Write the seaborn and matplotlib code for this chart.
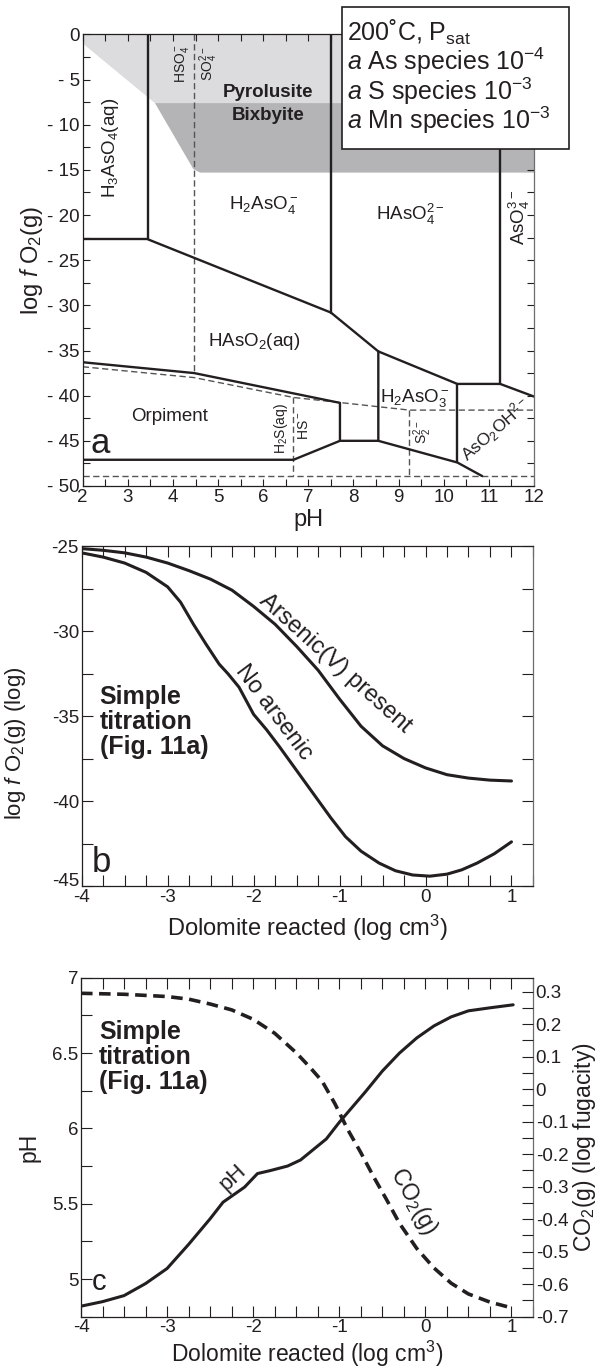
import numpy as np
import pandas as pd
import matplotlib
matplotlib.use("Agg")
import matplotlib.pyplot as plt
import matplotlib.transforms as mtransforms
from matplotlib.patches import Rectangle
from matplotlib.ticker import MultipleLocator, FuncFormatter
import seaborn as sns

# ---------------- data ----------------
# (a) pH - log fO2 stability diagram, 200 C
pyrolusite_x = [2, 2, 3.6, 12, 12]
pyrolusite_y = [0, -1, -7.6, -7.6, 0]
bixbyite_x = [3.6, 12, 12, 4.6, 4.45]
bixbyite_y = [-7.6, -7.6, -15.3, -15.3, -14.9]

h3aso4_bnd_x = [2, 3.45, 3.45]
h3aso4_bnd_y = [-22.7, -22.7, 0]
arsenate_bnd_x = [3.45, 7.5, 8.55, 10.3, 11.25, 12]
arsenate_bnd_y = [-22.7, -30.8, -35.1, -38.7, -38.7, -40.1]
h2aso4_bnd_x = [7.5, 7.5]
h2aso4_bnd_y = [-30.8, 0]
hasO4_bnd_x = [11.25, 11.25]
hasO4_bnd_y = [-38.7, 0]
orpiment_top_x = [2, 4.47, 7.7, 7.7, 8.55, 8.55]
orpiment_top_y = [-36.3, -37.5, -40.8, -45, -45, -35.1]
orpiment_bot_x = [2, 6.67, 7.7]
orpiment_bot_y = [-47.1, -47.1, -45]
arsenite_bot_x = [8.55, 10.3, 10.85]
arsenite_bot_y = [-45, -47.4, -48.9]
h2aso3_bnd_x = [10.3, 10.3]
h2aso3_bnd_y = [-38.7, -47.4]

sulfur_redox_x = [2, 4.47, 6.67, 9.24, 12]
sulfur_redox_y = [-36.8, -38.0, -40.2, -41.6, -41.6]
sulfate_x = [4.47, 4.47]
sulfate_y = [0, -37.5]
h2s_hs_x = [6.67, 6.67]
h2s_hs_y = [-40.2, -48.9]
hs_s2_x = [9.24, 9.24]
hs_s2_y = [-41.6, -48.9]
water_x = [2, 12]
water_y = [-48.9, -48.9]

# (b) log fO2 vs dolomite reacted
arsenic_x = [-4, -3.75, -3.5, -3.25, -3.0, -2.75, -2.5, -2.25, -2.0, -1.75, -1.5,
             -1.25, -1.0, -0.75, -0.5, -0.25, 0, 0.25, 0.5, 0.75, 1.0]
arsenic_y = [-25.15, -25.25, -25.4, -25.65, -26.0, -26.45, -26.95, -27.6, -28.55,
             -29.6, -30.9, -32.3, -34.0, -35.6, -36.75, -37.5, -38.05, -38.45,
             -38.65, -38.77, -38.82]
noarsenic_x = [-4, -3.75, -3.5, -3.25, -3.0, -2.85, -2.7, -2.55, -2.4, -2.3, -2.17,
               -2.0, -1.85, -1.7, -1.5, -1.3, -1.1, -0.93, -0.75, -0.54, -0.35,
               -0.15, 0.05, 0.25, 0.42, 0.6, 0.8, 1.0]
noarsenic_y = [-25.4, -25.65, -26.0, -26.55, -27.4, -28.3, -29.6, -30.8, -31.95,
               -32.5, -33.3, -34.9, -35.8, -36.8, -38.2, -39.6, -41.0, -42.1, -42.95,
               -43.65, -44.1, -44.35, -44.42, -44.3, -44.05, -43.65, -43.1, -42.4]

# (c) pH and CO2(g) vs dolomite reacted
ph_x = [-4, -3.75, -3.5, -3.25, -3.0, -2.75, -2.5, -2.35, -2.25, -2.1, -1.95, -1.8,
        -1.6, -1.45, -1.3, -1.15, -1.0, -0.85, -0.7, -0.5, -0.3, -0.1, 0.1, 0.3,
        0.5, 0.75, 1.02]
ph_y = [4.82, 4.85, 4.89, 4.97, 5.07, 5.23, 5.40, 5.51, 5.55, 5.61, 5.70, 5.72,
        5.75, 5.79, 5.86, 5.93, 6.04, 6.14, 6.24, 6.38, 6.50, 6.60, 6.68, 6.74,
        6.78, 6.80, 6.82]
co2_x = [-4, -3.5, -3.0, -2.75, -2.5, -2.25, -2.0, -1.75, -1.5, -1.35, -1.2, -1.05,
         -0.9, -0.75, -0.6, -0.45, -0.3, -0.1, 0.1, 0.3, 0.5, 0.75, 1.02]
co2_y = [0.295, 0.292, 0.285, 0.277, 0.262, 0.244, 0.215, 0.172, 0.112, 0.07, 0.025,
         -0.045, -0.125, -0.195, -0.27, -0.34, -0.413, -0.49, -0.55, -0.597, -0.63,
         -0.655, -0.674]

# ---------------- style ----------------
sns.set_style("ticks")
plt.rcParams["font.family"] = ["Liberation Sans", "DejaVu Sans"]
plt.rcParams["mathtext.fontset"] = "custom"
plt.rcParams["mathtext.rm"] = "Liberation Sans"
plt.rcParams["mathtext.it"] = "Liberation Sans:italic"
plt.rcParams["mathtext.bf"] = "Liberation Sans:bold"
plt.rcParams["text.color"] = "#231f20"
plt.rcParams["axes.labelcolor"] = "#231f20"

INK = "#231f20"
DASH = "#555555"

fig = plt.figure(figsize=(6.16, 13.72), dpi=100)
ax_a = fig.add_axes([0.1343, 0.6458, 0.7326, 0.3291])
ax_b = fig.add_axes([0.1326, 0.3542, 0.7326, 0.2478])
ax_c = fig.add_axes([0.1315, 0.0403, 0.7337, 0.2471])


def line(ax, x, y, **kw):
    sns.lineplot(x=x, y=y, sort=False, estimator=None, ax=ax, **kw)


def frame(ax, length):
    for s in ax.spines.values():
        s.set_linewidth(0.9)
        s.set_color(INK)
    ax.spines["right"].set_color("#6d6d6d")
    ax.tick_params(which="both", direction="in", top=True, right=True,
                   length=length, width=0.8, color=INK, labelcolor=INK)


# ---------------- (a) ----------------
ax_a.fill(pyrolusite_x, pyrolusite_y, color="#dcdcde", lw=0, zorder=0)
ax_a.fill(bixbyite_x, bixbyite_y, color="#b4b4b6", lw=0, zorder=0)

for bx, by in [(sulfur_redox_x, sulfur_redox_y), (sulfate_x, sulfate_y),
               (h2s_hs_x, h2s_hs_y), (hs_s2_x, hs_s2_y), (water_x, water_y)]:
    line(ax_a, bx, by, color=DASH, lw=1.0, linestyle=(0, (4.5, 2.5)))

for bx, by in [(h3aso4_bnd_x, h3aso4_bnd_y), (arsenate_bnd_x, arsenate_bnd_y),
               (h2aso4_bnd_x, h2aso4_bnd_y), (hasO4_bnd_x, hasO4_bnd_y),
               (orpiment_top_x, orpiment_top_y), (orpiment_bot_x, orpiment_bot_y),
               (arsenite_bot_x, arsenite_bot_y), (h2aso3_bnd_x, h2aso3_bnd_y)]:
    line(ax_a, bx, by, color=INK, lw=1.7)

ax_a.set_xlim(2, 12)
ax_a.set_ylim(-50, 0)
ax_a.xaxis.set_major_locator(MultipleLocator(1))
ax_a.xaxis.set_minor_locator(MultipleLocator(0.5))
ax_a.yaxis.set_major_locator(MultipleLocator(5))
ax_a.yaxis.set_minor_locator(MultipleLocator(2.5))
ax_a.yaxis.set_major_formatter(FuncFormatter(lambda v, p: "0" if v == 0 else f"- {abs(int(round(v)))}"))
frame(ax_a, 5)
ax_a.tick_params(labelsize=13.5, pad=2)
ax_a.set_xlabel("pH", fontsize=17, labelpad=2)
ax_a.set_ylabel("log $f$ O$_2$(g)", fontsize=17, labelpad=2)

lab = dict(fontsize=13.5, ha="center", va="center")
small = dict(fontsize=10, ha="center", va="center", rotation=90)
ax_a.text(2.62, -12.6, "H$_3$AsO$_4$(aq)", rotation=90, **lab)
ax_a.text(4.19, -3.2, "HSO$_4^-$", **small)
ax_a.text(4.8, -3.2, "SO$_4^{2-}$", **small)
ax_a.text(6.1, -6.4, "Pyrolusite", fontsize=13.5, fontweight="bold", ha="center", va="center")
ax_a.text(6.1, -9.0, "Bixbyite", fontsize=13.5, fontweight="bold", ha="center", va="center")
ax_a.text(6.0, -18.9, "H$_2$AsO$_4^-$", **lab)
ax_a.text(9.25, -19.9, "HAsO$_4^{2-}$", **lab)
ax_a.text(11.68, -20.3, "AsO$_4^{3-}$", rotation=90, **lab)
ax_a.text(5.8, -34.0, "HAsO$_2$(aq)", **lab)
ax_a.text(3.93, -42.3, "Orpiment", **lab)
ax_a.text(2.38, -45.3, "a", fontsize=25, ha="center", va="center")
ax_a.text(6.4, -43.6, "H$_2$S(aq)", **small)
ax_a.text(6.9, -43.3, "HS$^-$", **small)
ax_a.text(9.35, -40.3, "H$_2$AsO$_3^-$", **lab)
ax_a.text(9.53, -44.0, "S$_2^{2-}$", **small)
ax_a.text(11.15, -43.8, "AsO$_2$OH$^{2-}$", fontsize=12.5, ha="center", va="center",
          rotation=41, rotation_mode="anchor")

# conditions box (sits over the top-right corner of panel a)
fig.add_artist(Rectangle((0.555, 0.8914), 0.3685, 0.1035, transform=fig.transFigure,
                         facecolor="white", edgecolor=INK, lw=1.2, zorder=10))
box_lines = ["200˚C, P$_{\\mathrm{sat}}$", "$a$ As species 10$^{-4}$",
             "$a$ S species 10$^{-3}$", "$a$ Mn species 10$^{-3}$"]
for i, t in enumerate(box_lines):
    fig.text(0.564, 1 - (32 + 29.5 * i) / 1372, t, fontsize=18, ha="left", va="center", zorder=11)

# ---------------- (b) ----------------
line(ax_b, arsenic_x, arsenic_y, color=INK, lw=2.2)
line(ax_b, noarsenic_x, noarsenic_y, color=INK, lw=2.2)
ax_b.set_xlim(-4, 1.25)
ax_b.set_ylim(-45, -25)
ax_b.xaxis.set_major_locator(MultipleLocator(1))
ax_b.xaxis.set_minor_locator(MultipleLocator(0.25))
ax_b.yaxis.set_major_locator(MultipleLocator(5))
ax_b.yaxis.set_minor_locator(MultipleLocator(2.5))
ax_b.xaxis.set_major_formatter(FuncFormatter(lambda v, p: f"{int(round(v))}"))
ax_b.yaxis.set_major_formatter(FuncFormatter(lambda v, p: f"{int(round(v))}"))
frame(ax_b, 8)
ax_b.tick_params(labelsize=13.5, pad=2)
ax_b.set_xlabel("Dolomite reacted (log cm$^3$)", fontsize=17, labelpad=5)
ax_b.set_ylabel("log $f$ O$_2$(g) (log)", fontsize=16, labelpad=2)
ax_b.yaxis.set_label_coords(-0.118, 0.42)
ax_b.text(-3.79, -33.2, "Simple\ntitration\n(Fig. 11a)", fontsize=18, fontweight="bold",
          ha="left", va="top", linespacing=1.05)
ax_b.text(-1.05, -31.9, "Arsenic(V) present", fontsize=17, ha="center", va="center",
          rotation=-42, rotation_mode="anchor")
ax_b.text(-1.76, -34.8, "No arsenic", fontsize=17, ha="center", va="center",
          rotation=-53, rotation_mode="anchor")
ax_b.text(-3.77, -43.6, "b", fontsize=25, ha="center", va="center")

# ---------------- (c) ----------------
ax_c2 = ax_c.twinx()
line(ax_c, ph_x, ph_y, color=INK, lw=2.2)
line(ax_c2, co2_x, co2_y, color=INK, lw=2.6, linestyle=(0, (3.2, 1.8)))
ax_c.set_xlim(-4, 1.25)
ax_c.set_ylim(4.75, 7)
ax_c2.set_ylim(-0.7, 0.343)
ax_c.xaxis.set_major_locator(MultipleLocator(1))
ax_c.xaxis.set_minor_locator(MultipleLocator(0.25))
ax_c.yaxis.set_major_locator(MultipleLocator(0.5))
ax_c.yaxis.set_minor_locator(MultipleLocator(0.25))
ax_c2.yaxis.set_major_locator(MultipleLocator(0.1))
ax_c2.yaxis.set_minor_locator(MultipleLocator(0.05))
ax_c.xaxis.set_major_formatter(FuncFormatter(lambda v, p: f"{int(round(v))}"))
ax_c.yaxis.set_major_formatter(FuncFormatter(lambda v, p: f"{v:g}"))
ax_c2.yaxis.set_major_formatter(FuncFormatter(lambda v, p: "0" if abs(v) < 1e-9 else f"{v:.1f}"))
frame(ax_c, 8)
ax_c.tick_params(which="both", right=False, labelsize=13.5, pad=2)
for s in ax_c2.spines.values():
    s.set_visible(False)
ax_c2.tick_params(which="both", direction="in", length=8, width=0.8, color=INK,
                  labelcolor=INK, labelsize=13.5, pad=2)
ax_c.set_xlabel("Dolomite reacted (log cm$^3$)", fontsize=16.5, labelpad=2)
ax_c.set_ylabel("pH", fontsize=16.5, labelpad=8)
ax_c2.set_ylabel("CO$_2$(g) (log fugacity)", fontsize=16.5, labelpad=2)
ax_c.text(-3.79, 6.72, "Simple\ntitration\n(Fig. 11a)", fontsize=18, fontweight="bold",
          ha="left", va="top", linespacing=1.05)
ax_c.text(-2.24, 5.67, "pH", fontsize=16, ha="center", va="center", rotation=43,
          rotation_mode="anchor")
ax_c.text(-0.14, 5.52, "CO$_2$(g)", fontsize=16.5, ha="center", va="center", rotation=-61,
          rotation_mode="anchor")
ax_c.text(-3.79, 4.98, "c", fontsize=21, ha="center", va="center")

# lift the lowest y label of panel b a touch so it clears the "-4" below it
fig.canvas.draw()
nudge = mtransforms.ScaledTranslation(0, 5 / 72, fig.dpi_scale_trans)
for t in ax_b.get_yticklabels():
    if t.get_text() == "-45":
        t.set_transform(t.get_transform() + nudge)

fig.savefig("out.png", dpi=100)
